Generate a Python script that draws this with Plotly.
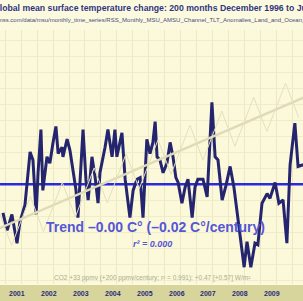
import plotly.graph_objects as go
import numpy as np

# ---- data ----
temp_years = [2001.06, 2001.19, 2001.34, 2001.50, 2001.59, 2001.75, 2001.91, 2002.00, 2002.10, 2002.16,
              2002.25, 2002.31, 2002.44, 2002.53, 2002.63, 2002.72, 2002.79, 2002.91, 2002.94, 2003.07,
              2003.16, 2003.26, 2003.35, 2003.41, 2003.47, 2003.57, 2003.66, 2003.73, 2003.85, 2003.95,
              2004.04, 2004.10, 2004.26, 2004.35, 2004.48, 2004.57, 2004.63, 2004.79, 2004.89, 2005.04,
              2005.14, 2005.26, 2005.36, 2005.45, 2005.57, 2005.67, 2005.76, 2005.83, 2005.89, 2005.98,
              2006.08, 2006.20, 2006.30, 2006.39, 2006.48, 2006.55, 2006.67, 2006.77, 2006.86, 2006.99,
              2007.08, 2007.17, 2007.33, 2007.46, 2007.61, 2007.71, 2007.80, 2007.93, 2008.05, 2008.18,
              2008.30, 2008.43, 2008.52, 2008.62, 2008.71, 2008.83, 2008.96, 2009.05, 2009.18, 2009.34,
              2009.43, 2009.59, 2009.71, 2009.84, 2009.96, 2010.06, 2010.21, 2010.31, 2010.47]
temp_anoms = [0.06, -0.05, 0.05, -0.13, 0.00, 0.11, 0.44, 0.39, 0.05, 0.31,
              0.58, 0.20, 0.41, 0.37, 0.50, 0.60, 0.43, 0.47, 0.41, 0.52,
              0.45, 0.33, 0.20, 0.03, 0.27, 0.58, 0.27, 0.14, 0.41, 0.28,
              0.12, 0.31, 0.47, 0.58, 0.41, 0.58, 0.41, 0.56, 0.27, 0.03,
              0.20, 0.27, 0.28, 0.03, 0.52, 0.43, 0.50, 0.63, 0.41, 0.39,
              0.31, 0.37, 0.50, 0.41, 0.28, 0.25, 0.12, 0.22, 0.27, 0.03,
              0.22, 0.27, 0.27, 0.16, 0.75, 0.41, 0.39, 0.14, 0.23, 0.35,
              0.22, 0.03, -0.11, -0.28, -0.12, -0.28, -0.13, -0.14, 0.12, 0.18,
              0.15, 0.25, 0.12, 0.14, -0.13, 0.36, 0.62, 0.35, 0.36]

trend_years = [1996.92, 2013.50]
trend_anoms = [0.241, 0.240]

co2_years = [2000.92, 2001.33, 2001.92, 2002.33, 2002.92, 2003.33, 2003.92, 2004.33, 2004.92, 2005.33,
             2005.92, 2006.33, 2006.92, 2007.33, 2007.92, 2008.33, 2008.92, 2009.33, 2009.92, 2010.33]
co2_ppmv = [374.1, 369.1, 376.1, 371.1, 378.1, 373.2, 380.2, 375.2, 382.2, 377.2,
            384.2, 379.3, 386.3, 381.3, 388.3, 383.3, 390.3, 385.4, 392.3, 387.4]

year_labels = ["2001", "2002", "2003", "2004", "2005", "2006", "2007", "2008", "2009", "2010"]

title_text = "Global mean surface temperature change: 200 months December 1996 to July 2013"
source_text = "www.remss.com/data/msu/monthly_time_series/RSS_Monthly_MSU_AMSU_Channel_TLT_Anomalies_Land_and_Ocean_v03_3.txt"
trend_text = "Trend \u20130.00 C\u00b0 (\u20130.02 C\u00b0/century)"
r2_text = "r\u00b2 = 0.000"
co2_text = "CO2 +33 ppmv (+200 ppmv/century; r\u00b2 = 0.991): +0.47 [+0.57] W/m\u00b2"

W, H = 303, 301
T, B = 30, 17
PH = H - T - B

fig = go.Figure()

# CO2 seasonal line and its linear trend
co2_fit = np.polyfit(co2_years, co2_ppmv, 1)
fit_x = np.array([2000.5, 2011.0])
fig.add_trace(go.Scatter(x=fit_x, y=np.polyval(co2_fit, fit_x), yaxis="y2", mode="lines",
                         line=dict(color="#dedbb6", width=2.5), hoverinfo="skip"))
fig.add_trace(go.Scatter(x=co2_years, y=co2_ppmv, yaxis="y2", mode="lines",
                         line=dict(color="#e3e0bc", width=1), hoverinfo="skip"))

# temperature trend
fig.add_trace(go.Scatter(x=trend_years, y=trend_anoms, mode="lines",
                         line=dict(color="#2a2ae0", width=3), hoverinfo="skip"))
# temperature anomalies
fig.add_trace(go.Scatter(x=temp_years, y=temp_anoms, mode="lines",
                         line=dict(color="#25256f", width=3), hoverinfo="skip"))

annotations = []
for i, lab in enumerate(year_labels):
    annotations.append(dict(x=int(lab) + 0.5, xref="x", y=-9 / PH, yref="paper",
                            text="<b>" + lab + "</b>", showarrow=False,
                            font=dict(family="Arial", size=7, color="#2a2a7a"),
                            xanchor="center", yanchor="middle"))
annotations += [
    dict(x=-9 / W, xref="paper", y=(PH + T - 8) / PH, yref="paper", text="<b>" + title_text + "</b>",
         showarrow=False, xanchor="left", yanchor="middle",
         font=dict(family="Arial", size=8.7, color="#2f3480")),
    dict(x=-25 / W, xref="paper", y=(PH + T - 20) / PH, yref="paper", text=source_text,
         showarrow=False, xanchor="left", yanchor="middle",
         font=dict(family="Arial", size=6, color="#4a4a7a")),
    dict(x=155 / W, xref="paper", y=(PH + T - 227) / PH, yref="paper", text="<b>" + trend_text + "</b>",
         showarrow=False, xanchor="center", yanchor="middle",
         font=dict(family="Arial", size=14, color="#5656d6")),
    dict(x=152 / W, xref="paper", y=(PH + T - 244) / PH, yref="paper", text="<b><i>" + r2_text + "</i></b>",
         showarrow=False, xanchor="center", yanchor="middle",
         font=dict(family="Arial", size=9, color="#5656d6")),
    dict(x=152 / W, xref="paper", y=(PH + T - 278) / PH, yref="paper", text=co2_text,
         showarrow=False, xanchor="center", yanchor="middle",
         font=dict(family="Arial", size=6.5, color="#aeac90")),
]

shapes = [
    dict(type="rect", xref="paper", yref="paper", x0=-0.01, x1=1.01, y0=-(B + 2) / PH, y1=-1 / PH,
         fillcolor="#d7d59c", line=dict(width=0), layer="below"),
]

fig.update_layout(
    width=W, height=H,
    margin=dict(l=0, r=0, t=T, b=B),
    paper_bgcolor="#fcfade",
    plot_bgcolor="#fbf9da",
    showlegend=False,
    xaxis=dict(range=[2000.967, 2010.465], showticklabels=False, ticks="",
               showgrid=True, gridcolor="#ebe8c2", gridwidth=1, tick0=2001.13, dtick=0.5,
               zeroline=False, showline=False, fixedrange=True),
    yaxis=dict(range=[-0.385, 1.2025], showticklabels=False, ticks="",
               showgrid=True, gridcolor="#efecca", gridwidth=1, tick0=0.04, dtick=0.1,
               zeroline=False, showline=False, fixedrange=True),
    yaxis2=dict(range=[363.6, 399.9], overlaying="y", side="right", showticklabels=False,
                showgrid=False, zeroline=False, ticks="", fixedrange=True),
    annotations=annotations,
    shapes=shapes,
)

fig.write_html("out.html", config={"displayModeBar": False},
               post_script="document.body.style.margin='0';document.body.style.overflow='hidden';")
